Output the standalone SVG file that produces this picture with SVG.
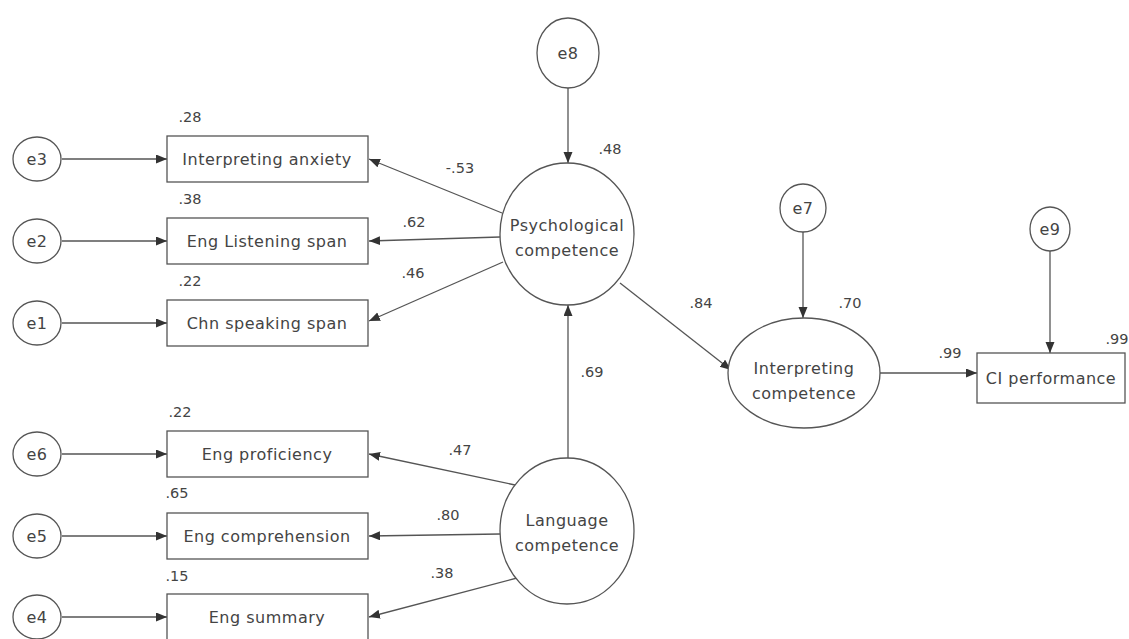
<svg xmlns="http://www.w3.org/2000/svg" width="1129" height="639" viewBox="0 0 1129 639">
<defs>
<style>
.n{fill:#fff;stroke:#555;stroke-width:1.3}
.t{font-family:"DejaVu Sans",sans-serif;font-size:16px;letter-spacing:0.5px;fill:#444;text-anchor:middle}
.l{font-family:"DejaVu Sans",sans-serif;font-size:14.5px;fill:#444;text-anchor:middle}
.c{stroke:#555;stroke-width:1.3;fill:none;marker-end:url(#a)}
</style>
<marker id="a" markerUnits="userSpaceOnUse" markerWidth="12" markerHeight="10" refX="11" refY="4.5" orient="auto">
<path d="M0,0 L11,4.5 L0,9 z" fill="#333"/>
</marker>
</defs>
<rect width="1129" height="639" fill="#fff"/>
<g id="connectors">
<line class="c" x1="62" y1="159" x2="167" y2="159"/>
<line class="c" x1="62" y1="241" x2="167" y2="241"/>
<line class="c" x1="62" y1="323" x2="167" y2="323"/>
<line class="c" x1="62" y1="454" x2="167" y2="454"/>
<line class="c" x1="62" y1="536" x2="167" y2="536"/>
<line class="c" x1="62" y1="617" x2="167" y2="617"/>
<line class="c" x1="502" y1="213" x2="369" y2="159"/>
<line class="c" x1="500" y1="237" x2="369" y2="241"/>
<line class="c" x1="503" y1="262" x2="369" y2="321"/>
<line class="c" x1="515" y1="485" x2="369" y2="454"/>
<line class="c" x1="500" y1="534" x2="369" y2="536"/>
<line class="c" x1="517" y1="578" x2="369" y2="617"/>
<line class="c" x1="568" y1="88" x2="568" y2="163"/>
<line class="c" x1="568" y1="458" x2="568" y2="305"/>
<line class="c" x1="620" y1="283" x2="731" y2="370"/>
<line class="c" x1="803" y1="232" x2="803" y2="318"/>
<line class="c" x1="880" y1="373" x2="977" y2="373"/>
<line class="c" x1="1050" y1="251" x2="1050" y2="353"/>
</g>
<g id="e3"><ellipse class="n" cx="37" cy="159" rx="24" ry="22"/><text class="t" x="37" y="165">e3</text></g>
<g id="e2"><ellipse class="n" cx="37" cy="241" rx="24" ry="22"/><text class="t" x="37" y="247">e2</text></g>
<g id="e1"><ellipse class="n" cx="37" cy="323" rx="24" ry="22"/><text class="t" x="37" y="329">e1</text></g>
<g id="e6"><ellipse class="n" cx="37" cy="454" rx="24" ry="22"/><text class="t" x="37" y="460">e6</text></g>
<g id="e5"><ellipse class="n" cx="37" cy="536" rx="24" ry="22"/><text class="t" x="37" y="542">e5</text></g>
<g id="e4"><ellipse class="n" cx="37" cy="617" rx="24" ry="22"/><text class="t" x="37" y="623">e4</text></g>
<g id="anxiety"><rect class="n" x="167" y="136" width="201" height="46"/><text class="t" x="267" y="165">Interpreting anxiety</text><text class="l" x="190" y="122">.28</text></g>
<g id="listening"><rect class="n" x="167" y="218" width="201" height="46"/><text class="t" x="267" y="247">Eng Listening span</text><text class="l" x="190" y="204">.38</text></g>
<g id="speaking"><rect class="n" x="167" y="300" width="201" height="46"/><text class="t" x="267" y="329">Chn speaking span</text><text class="l" x="190" y="286">.22</text></g>
<g id="proficiency"><rect class="n" x="167" y="431" width="201" height="46"/><text class="t" x="267" y="460">Eng proficiency</text><text class="l" x="180" y="417">.22</text></g>
<g id="comprehension"><rect class="n" x="167" y="513" width="201" height="46"/><text class="t" x="267" y="542">Eng comprehension</text><text class="l" x="177" y="498">.65</text></g>
<g id="summary"><rect class="n" x="167" y="594" width="201" height="46"/><text class="t" x="267" y="623">Eng summary</text><text class="l" x="177" y="581">.15</text></g>
<g id="e8"><ellipse class="n" cx="568" cy="53" rx="31" ry="35"/><text class="t" x="568" y="59">e8</text></g>
<g id="psych"><ellipse class="n" cx="567" cy="234" rx="67" ry="71"/><text class="t" x="567" y="231">Psychological</text><text class="t" x="567" y="256">competence</text><text class="l" x="610" y="154">.48</text></g>
<g id="lang"><ellipse class="n" cx="567" cy="531" rx="67" ry="73"/><text class="t" x="567" y="526">Language</text><text class="t" x="567" y="551">competence</text></g>
<g id="e7"><ellipse class="n" cx="803" cy="208" rx="23" ry="24"/><text class="t" x="803" y="214">e7</text></g>
<g id="interp"><ellipse class="n" cx="804" cy="373" rx="76" ry="55"/><text class="t" x="804" y="374">Interpreting</text><text class="t" x="804" y="399">competence</text><text class="l" x="850" y="308">.70</text></g>
<g id="e9"><ellipse class="n" cx="1050" cy="229" rx="20" ry="22"/><text class="t" x="1050" y="235">e9</text></g>
<g id="ci"><rect class="n" x="977" y="353" width="148" height="50"/><text class="t" x="1051" y="384">CI performance</text><text class="l" x="1117" y="344">.99</text></g>
<g id="labels">
<text class="l" x="460" y="173">-.53</text>
<text class="l" x="414" y="227">.62</text>
<text class="l" x="413" y="278">.46</text>
<text class="l" x="460" y="455">.47</text>
<text class="l" x="448" y="520">.80</text>
<text class="l" x="442" y="578">.38</text>
<text class="l" x="592" y="377">.69</text>
<text class="l" x="701" y="308">.84</text>
<text class="l" x="950" y="358">.99</text>
</g>
</svg>
